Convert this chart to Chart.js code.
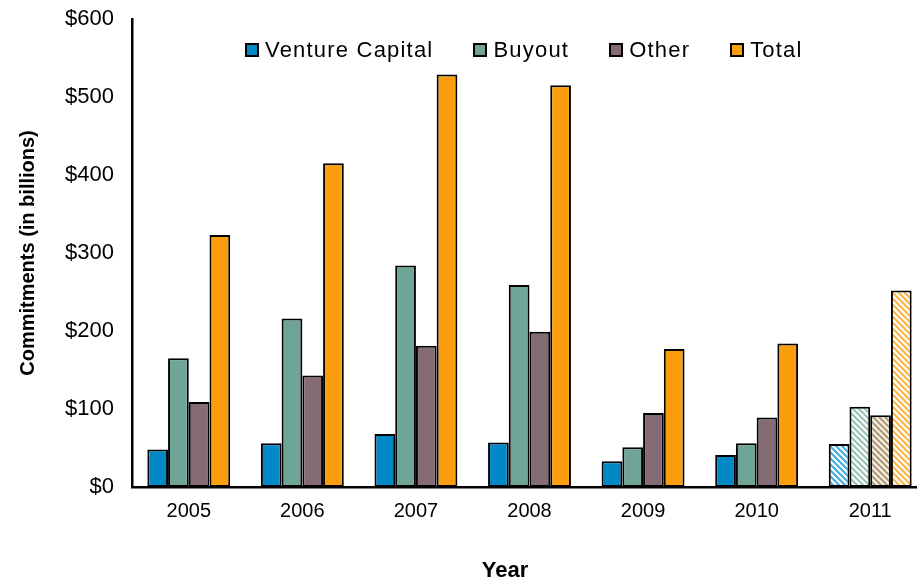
<!DOCTYPE html>
<html>
<head>
<meta charset="utf-8">
<script src="https://cdn.jsdelivr.net/npm/chart.js@4/dist/chart.umd.min.js"></script>
<style>
html, body { margin: 0; padding: 0; background: #fff; overflow: hidden; }
#wrap { position: relative; width: 917px; height: 583px; overflow: hidden; }
canvas { display: block; }
#legend {
    position: absolute; left: 245px; top: 37px;
    display: flex; gap: 40px;
    font-family: 'Liberation Sans', Arial, sans-serif; font-size: 22px;
    letter-spacing: 1.2px; color: #000; line-height: 26px;
}
#legend .item { display: flex; align-items: center; }
#legend .box {
    width: 10px; height: 10px; border: 2px solid #000; margin-right: 6px;
}
</style>
</head>
<body>
<div id="wrap">
<canvas id="commitments" width="927" height="583"></canvas>
<div id="legend"></div>
</div>
<script>
var years = ["2005", "2006", "2007", "2008", "2009", "2010", "2011"];
var ventureCapital = [48, 56, 68, 57, 33, 41, 55];
var buyout = [165, 216, 284, 259, 51, 56, 103];
var other = [109, 143, 181, 199, 95, 89, 92];
var total = [323, 415, 529, 515, 177, 184, 252];
var yTicks = [0, 100, 200, 300, 400, 500, 600];

var colors = ["#0089C6", "#6FA597", "#846B75", "#FA9E0E"];

// 2011 is an estimate -> drawn hatched
function hatch(bg, fg) {
    var c = document.createElement('canvas');
    c.width = 6; c.height = 6;
    var g = c.getContext('2d');
    g.fillStyle = bg;
    g.fillRect(0, 0, 6, 6);
    g.strokeStyle = fg;
    g.lineWidth = 2.2;
    g.beginPath();
    g.moveTo(-1, -1); g.lineTo(7, 7);
    g.moveTo(-4, 2); g.lineTo(4, 10);
    g.moveTo(2, -4); g.lineTo(10, 4);
    g.stroke();
    return g.createPattern(c, 'repeat');
}

function fillFor(color, pattern) {
    return function(ctx) {
        return ctx.dataIndex === years.length - 1 ? pattern : color;
    };
}

var ctx = document.getElementById('commitments').getContext('2d');
var font = "'Liberation Sans', Arial, sans-serif";

var yearTitle = {
    id: 'yearTitle',
    afterDraw: function(chart) {
        var c = chart.ctx;
        c.save();
        c.font = 'bold 22px ' + font;
        c.fillStyle = '#000';
        c.textAlign = 'center';
        c.textBaseline = 'middle';
        c.fillText('Year', 505, 571);
        c.restore();
    }
};

var myChart = new Chart(ctx, {
    type: 'bar',
    data: {
        labels: years,
        datasets: [
            {
                label: "Venture Capital",
                backgroundColor: fillFor(colors[0], hatch("#ffffff", "#45ADE0")),
                data: ventureCapital
            },
            {
                label: "Buyout",
                backgroundColor: fillFor(colors[1], hatch("#ffffff", "#9CC3B8")),
                data: buyout
            },
            {
                label: "Other",
                backgroundColor: fillFor(colors[2], hatch("#FFF6C2", "#A8979B")),
                data: other
            },
            {
                label: "Total",
                backgroundColor: fillFor(colors[3], hatch("#ffffff", "#FBB64A")),
                data: total
            }
        ]
    },
    options: {
        responsive: false,
        animation: false,
        devicePixelRatio: 1,
        layout: { padding: { top: 19, right: 0, left: 0, bottom: 0 } },
        datasets: {
            bar: {
                borderColor: "#000",
                borderWidth: 2,
                borderSkipped: false,
                categoryPercentage: 0.73,
                barPercentage: 1
            }
        },
        plugins: {
            tooltip: { enabled: false },
            legend: { display: false }
        },
        scales: {
            x: {
                grid: { display: false, drawTicks: false },
                border: { display: true, color: '#000', width: 2.5 },
                ticks: { font: { family: font, size: 20 }, color: '#000', padding: 12 },
                afterFit: function(scale) { scale.height = 96; }
            },
            y: {
                min: 0,
                max: 600,
                grid: { display: false, drawTicks: false },
                border: { display: true, color: '#000', width: 2.5 },
                afterBuildTicks: function(scale) {
                    scale.ticks = yTicks.map(function(v) { return { value: v }; });
                },
                ticks: {
                    font: { family: font, size: 22 },
                    color: '#000',
                    padding: 18,
                    callback: function(v) { return '$' + v; }
                },
                title: {
                    display: true,
                    text: 'Commitments (in billions)',
                    font: { family: font, size: 20, weight: 'bold' },
                    color: '#000',
                    padding: { top: 16, bottom: 0 }
                },
                afterFit: function(scale) {
                    scale.width = 132;
                    scale.paddingTop = 0;
                    scale.paddingBottom = 0;
                }
            }
        }
    },
    plugins: [yearTitle]
});

// legend drawn as html, floats over the plot like the original
var legend = document.getElementById('legend');
myChart.data.datasets.forEach(function(ds, i) {
    var item = document.createElement('div');
    item.className = 'item';
    var box = document.createElement('span');
    box.className = 'box';
    box.style.background = colors[i];
    var txt = document.createElement('span');
    txt.textContent = ds.label;
    item.appendChild(box);
    item.appendChild(txt);
    legend.appendChild(item);
});
</script>
</body>
</html>
